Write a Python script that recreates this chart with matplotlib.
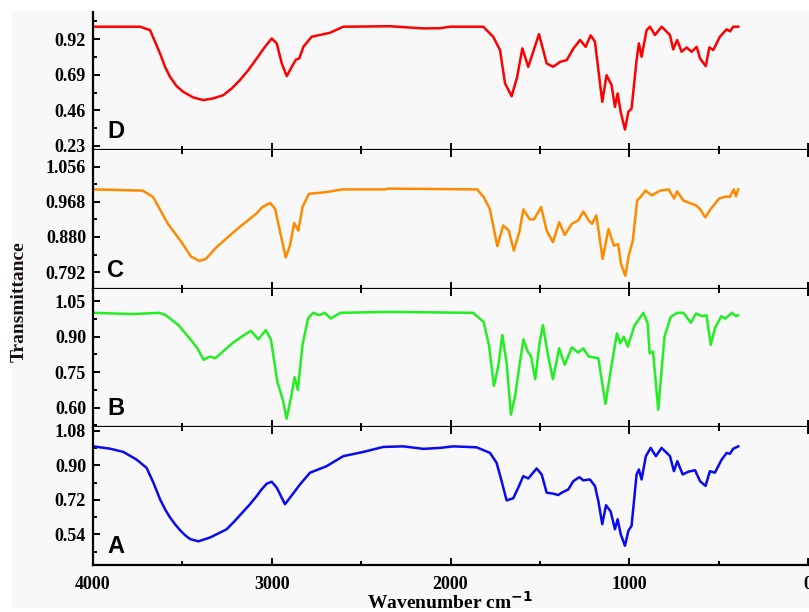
import matplotlib
matplotlib.use("Agg")
import matplotlib.pyplot as plt
from matplotlib.patches import Rectangle
from matplotlib.ticker import FixedLocator, FormatStrFormatter

# FTIR spectra (wavenumber cm-1, transmittance)
D_x = [4000, 3737, 3681, 3653, 3625, 3597, 3569, 3532, 3495, 3439, 3383, 3327, 3271, 3224, 3178,
       3131, 3084, 3038, 3000, 2972, 2944, 2916, 2888,
       2864, 2846, 2823, 2777, 2674, 2600, 2338, 2152, 2059, 2003, 1817, 1761, 1723, 1695, 1658,
       1627, 1598, 1565, 1505, 1462, 1425, 1387, 1350, 1312, 1275, 1244, 1216, 1192, 1151, 1127,
       1099, 1080, 1065, 1048, 1024, 1005, 987, 959, 946, 931, 903, 884, 856, 819, 772,
       754, 732, 707, 679, 651, 623, 604, 572, 552, 530, 493, 455, 436, 418, 390]
D_y = [1.0, 1.0, 0.978, 0.903, 0.827, 0.741, 0.676, 0.616, 0.579, 0.543, 0.526, 0.537, 0.558, 0.601, 0.655,
       0.720, 0.795, 0.870, 0.924, 0.892, 0.763, 0.681, 0.741,
       0.789, 0.795, 0.870, 0.935, 0.961, 1.0, 1.003, 0.989, 0.99, 1.0, 1.0, 0.935, 0.849, 0.634, 0.551,
       0.676, 0.86, 0.741, 0.952, 0.763, 0.741, 0.773, 0.784, 0.86, 0.914, 0.87, 0.944, 0.903, 0.515, 0.687,
       0.623, 0.482, 0.569, 0.45, 0.336, 0.45, 0.472, 0.784, 0.892, 0.806, 0.978, 1.0, 0.946, 1.0, 0.946,
       0.853, 0.914, 0.838, 0.866, 0.838, 0.87, 0.795, 0.745, 0.866, 0.849, 0.935, 0.983, 0.97, 1.0, 1.0]

C_x = [4000, 3722, 3664, 3581, 3511, 3452, 3405, 3369, 3310, 3193, 3087, 3052, 3009, 2981, 2953,
       2922, 2898, 2875, 2851, 2828, 2792, 2698, 2604, 2369, 2345, 1851, 1815, 1780, 1738, 1705,
       1674, 1646, 1615, 1592, 1557, 1533, 1493, 1462, 1427, 1392, 1361, 1321, 1286, 1257, 1227,
       1208, 1184, 1149, 1116, 1086, 1062, 1046, 1022, 1003, 980, 956, 937, 909, 874, 827,
       779, 749, 732, 697, 626, 603, 575, 544, 497, 462, 438, 415, 403, 391]
C_y = [0.999, 0.996, 0.980, 0.913, 0.871, 0.831, 0.820, 0.825, 0.854, 0.900, 0.938, 0.955, 0.965, 0.950, 0.892,
       0.829, 0.858, 0.915, 0.896, 0.955, 0.988, 0.992, 0.999, 0.999, 1.001, 0.999, 0.980, 0.950, 0.857, 0.909,
       0.896, 0.846, 0.892, 0.949, 0.924, 0.924, 0.955, 0.896, 0.867, 0.917, 0.885, 0.913, 0.921, 0.944, 0.921,
       0.913, 0.934, 0.825, 0.900, 0.858, 0.862, 0.812, 0.783, 0.833, 0.871, 0.971, 0.980, 0.996, 0.984, 0.996,
       0.999, 0.976, 0.994, 0.971, 0.959, 0.949, 0.929, 0.950, 0.976, 0.981, 0.980, 0.999, 0.982, 0.999]

B_x = [4000, 3781, 3628, 3593, 3522, 3452, 3416, 3381, 3346, 3315, 3263, 3216, 3169, 3117, 3075,
       3033, 3004, 2969, 2938, 2917, 2891, 2872, 2854, 2828, 2797, 2769, 2734, 2703, 2670, 2616,
       2345, 1874, 1815, 1785, 1757, 1733, 1710, 1686, 1662, 1639, 1615, 1592, 1568, 1549, 1526,
       1502, 1483, 1455, 1427, 1392, 1361, 1321, 1286, 1257, 1227, 1173, 1133, 1097, 1069, 1050,
       1031, 1008, 972, 921, 897, 886, 867, 838, 803, 768, 732, 697, 655, 627, 591,
       568, 544, 521, 485, 462, 426, 403, 391]
B_y = [1.001, 0.996, 1.001, 0.991, 0.949, 0.886, 0.851, 0.802, 0.816, 0.809, 0.844, 0.875, 0.900, 0.925, 0.889,
       0.928, 0.886, 0.710, 0.633, 0.553, 0.647, 0.729, 0.675, 0.865, 0.977, 1.001, 0.991, 1.001, 0.977, 1.001,
       1.005, 1.001, 0.963, 0.865, 0.692, 0.774, 0.907, 0.788, 0.570, 0.647, 0.774, 0.889, 0.837, 0.816, 0.720,
       0.872, 0.949, 0.823, 0.720, 0.851, 0.781, 0.855, 0.833, 0.851, 0.816, 0.809, 0.616, 0.788, 0.914, 0.872,
       0.900, 0.858, 0.945, 1.001, 0.956, 0.830, 0.837, 0.591, 0.900, 0.984, 1.001, 1.001, 0.959, 0.998, 0.987,
       0.991, 0.865, 0.935, 0.987, 0.977, 1.001, 0.987, 0.991]

A_x = [4000, 3905, 3830, 3756, 3700, 3662, 3625, 3597, 3569, 3541, 3513, 3485, 3457, 3411, 3345,
       3299, 3252, 3206, 3159, 3122, 3084, 3057, 3028, 3000, 2972, 2926, 2898, 2842, 2786, 2693,
       2600, 2488, 2376, 2264, 2152, 2059, 1984,
       1854, 1779, 1742, 1714, 1686, 1649, 1621, 1593, 1565, 1518, 1490, 1462, 1425, 1397, 1378,
       1341, 1313, 1279, 1257, 1220, 1192, 1173, 1151, 1130, 1104, 1080, 1065, 1048, 1024, 1005,
       987, 959, 946, 931, 907, 880, 851, 819, 772, 750, 731, 701, 670, 632, 604,
       573, 549, 521, 483, 455, 437, 418, 390]
A_y = [0.998, 0.986, 0.969, 0.929, 0.886, 0.809, 0.723, 0.671, 0.628, 0.593, 0.562, 0.536, 0.516, 0.504, 0.524,
       0.545, 0.567, 0.611, 0.659, 0.697, 0.740, 0.774, 0.804, 0.814, 0.783, 0.697, 0.731, 0.800, 0.861, 0.895,
       0.947, 0.969, 0.995, 0.998, 0.985, 0.990, 0.998,
       0.993, 0.964, 0.912, 0.817, 0.717, 0.728, 0.783, 0.843, 0.831, 0.883, 0.852, 0.757, 0.752, 0.745, 0.757,
       0.774, 0.817, 0.838, 0.821, 0.826, 0.792, 0.714, 0.593, 0.692, 0.659, 0.567, 0.619, 0.542, 0.481, 0.559,
       0.585, 0.852, 0.878, 0.826, 0.947, 0.990, 0.947, 0.990, 0.947, 0.869, 0.921, 0.852, 0.866, 0.874, 0.817,
       0.792, 0.869, 0.861, 0.929, 0.964, 0.959, 0.986, 0.998]

# tick values per panel
D_ticks = [0.23, 0.46, 0.69, 0.92]
C_ticks = [0.792, 0.880, 0.968, 1.056]
B_ticks = [0.60, 0.75, 0.90, 1.05]
A_ticks = [0.54, 0.72, 0.90, 1.08]
x_ticks = [4000, 3000, 2000, 1000, 0]

panels = [
    ("D", D_x, D_y, "#ff0000", (0.202, 1.095), D_ticks, "%.2f"),
    ("C", C_x, C_y, "#ff8a00", (0.751, 1.097), C_ticks, "%.3f"),
    ("B", B_x, B_y, "#22ee22", (0.519, 1.104), B_ticks, "%.2f"),
    ("A", A_x, A_y, "#0a0af0", (0.381, 1.100), A_ticks, "%.2f"),
]

serif = "Liberation Serif"
bg = "#f8f8f8"

fig = plt.figure(figsize=(8.09, 6.12), dpi=100, facecolor="white")
fig.patches.append(Rectangle((12 / 809, 4 / 612), 1, 1 - 15 / 612, transform=fig.transFigure,
                             facecolor=bg, edgecolor="none", zorder=-10))

left, right = 93 / 809, 808 / 809
bottom, top = 47 / 612, 600 / 612
h = (top - bottom) / 4

for i, (name, xs, ys, color, ylim, yt, fmt) in enumerate(panels):
    ax = fig.add_axes([left, top - (i + 1) * h, right - left, h])
    ax.set_facecolor(bg)
    ax.plot(xs, ys, color=color, linewidth=1.8, solid_joinstyle="round")
    ax.set_xlim(4000, 0)
    ax.set_ylim(*ylim)

    ax.spines["right"].set_visible(False)
    ax.spines["top"].set_visible(False)
    for s in ("left", "bottom"):
        ax.spines[s].set_linewidth(1.6)

    ax.xaxis.set_major_locator(FixedLocator(x_ticks))
    ax.xaxis.set_minor_locator(FixedLocator([3500, 2500, 1500, 500]))
    ax.yaxis.set_major_locator(FixedLocator(yt))
    step = (yt[1] - yt[0]) / 2
    ax.yaxis.set_minor_locator(FixedLocator([v + step for v in yt] + [yt[0] - step]))
    ax.yaxis.set_major_formatter(FormatStrFormatter(fmt))

    has_top = i > 0
    ax.tick_params(which="both", direction="in", width=1.4, top=has_top, right=False)
    ax.tick_params(which="major", length=5)
    ax.tick_params(which="minor", length=3)
    ax.tick_params(axis="y", which="major", labelsize=13, pad=5)
    for lab in ax.get_yticklabels():
        lab.set_fontfamily(serif)
        lab.set_fontweight("bold")

    if i < 3:
        ax.tick_params(axis="x", labelbottom=False)
    else:
        ax.tick_params(axis="x", which="major", labelsize=13, pad=8)
        for lab in ax.get_xticklabels():
            lab.set_fontfamily(serif)
            lab.set_fontweight("bold")

    ax.text(0.02, 0.05, name, transform=ax.transAxes, fontsize=17, fontweight="bold",
            family="Liberation Sans", ha="left", va="bottom")

fig.text(19 / 809, 1 - 302 / 612, "Transmittance", rotation=90, ha="center", va="center",
         fontsize=14, fontweight="bold", family=serif, color="#1a1010")
fig.text(450 / 809, 3 / 612, r"Wavenumber cm$^{\mathbf{-1}}$", ha="center", va="baseline",
         fontsize=14, fontweight="bold", family=serif)

fig.savefig("out.png", dpi=100, facecolor="white")
